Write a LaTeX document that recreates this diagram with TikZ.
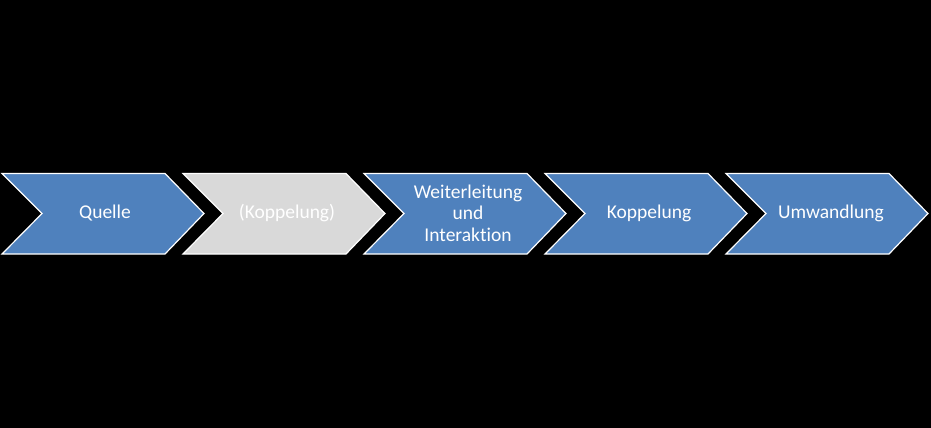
\documentclass[tikz,border=0pt]{standalone}
\usepackage{fontspec}
\setmainfont[Ligatures=NoCommon]{Carlito}
\definecolor{chevblue}{HTML}{4F81BD}
\definecolor{chevgray}{HTML}{D9D9D9}
\tikzset{
  chev/.style={draw=white, line width=1.2pt, line join=miter},
  lbl/.style={text=white, font=\fontsize{19.5}{21.5}\selectfont, align=center, inner sep=0pt}
}
\begin{document}
\begin{tikzpicture}[x=1pt,y=-1pt]
\fill[black] (0,0) rectangle (931,428);
\useasboundingbox (0,0) rectangle (931,428);
\foreach \i/\c in {0/chevblue,1/chevgray,2/chevblue,3/chevblue,4/chevblue}{
  \pgfmathsetmacro{\L}{2+181*\i}
  \draw[chev, fill=\c] (\L,173.5) -- ++(163,0) -- ++(39,40) -- ++(-39,40.5) -- ++(-163,0) -- ++(40,-40.5) -- cycle;
}
\node[lbl] (n1) at (105,213) {Quelle};
\node[lbl] (n2) at (287,213) {(Koppelung)};
\node[lbl] (n3) at (468,213) {Weiterleitung\\und\\Interaktion};
\node[lbl] (n4) at (649,213) {Koppelung};
\node[lbl] (n5) at (831,213) {Umwandlung};
\end{tikzpicture}
\end{document}
